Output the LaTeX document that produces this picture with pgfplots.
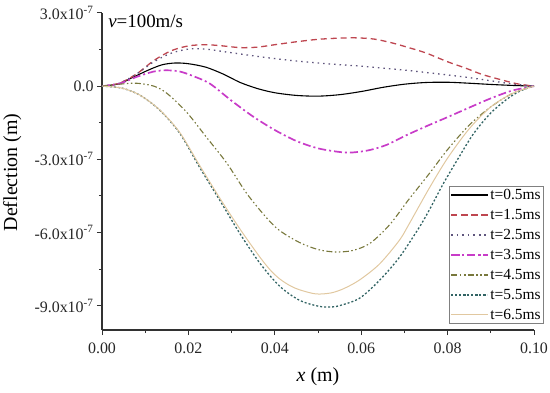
\documentclass[border=0pt]{standalone}
\usepackage{pgfplots}
\pgfplotsset{compat=1.18}
\usepackage{fontspec}
\setmainfont{Liberation Serif}
\definecolor{cred}{RGB}{190,70,80}
\definecolor{cdot}{RGB}{95,85,125}
\definecolor{cmag}{RGB}{200,60,200}
\definecolor{coli}{RGB}{120,120,60}
\definecolor{cteal}{RGB}{50,100,100}
\definecolor{ctan}{RGB}{225,200,160}
\definecolor{caxis}{RGB}{50,50,50}
\begin{document}
\begin{tikzpicture}
\useasboundingbox (-102bp,-63bp) rectangle (448bp,330bp);
\begin{axis}[
  at={(0,0)}, anchor=south west,
  scale only axis, width=432bp, height=317bp,
  xmin=0, xmax=0.1, ymin=-10, ymax=3,
  axis x line=bottom, axis y line=left,
  axis line style={caxis, line width=1.1pt, -},
  tick align=outside,
  major tick length=5bp, minor tick length=3bp,
  every tick/.style={caxis, line width=1pt},
  xtick={0,0.02,0.04,0.06,0.08,0.1},
  xticklabels={0.00,0.02,0.04,0.06,0.08,0.10},
  minor xtick={0.01,0.03,0.05,0.07,0.09},
  ytick={3,0,-3,-6,-9},
  yticklabels={3.0x10\textsuperscript{-7},0.0,-3.0x10\textsuperscript{-7},-6.0x10\textsuperscript{-7},-9.0x10\textsuperscript{-7}},
  minor ytick={1.5,-1.5,-4.5,-7.5},
  scaled x ticks=false, scaled y ticks=false,
  tick label style={font=\fontsize{16}{18}\selectfont, text=black!85},
  xticklabel style={yshift=-4bp},
  xlabel={\textit{x} (m)},
  ylabel={Deflection (m)},
  label style={font=\fontsize{20}{22}\selectfont},
  xlabel style={at={(axis description cs:0.5,-0.148)}, anchor=center},
  ylabel style={at={(axis description cs:-0.208,0.497)}, anchor=center},
  legend style={at={(1.023,0.019)}, anchor=south east, draw=black!50, line width=0.6pt,
    font=\fontsize{15.5}{17}\selectfont, inner sep=1pt, row sep=4.3bp},
  legend cell align=left,
  legend image code/.code={\draw[mark repeat=2,mark phase=2,#1] plot coordinates {(0bp,0bp) (18bp,0bp) (36bp,0bp)};},
  clip=false,
  every axis plot/.append style={smooth},
]
\addplot[black, line width=1.1pt] coordinates {
(0,0) (0.004,0.1) (0.007,0.35) (0.011,0.68) (0.014,0.88) (0.017,0.95) (0.02,0.92) (0.024,0.78) (0.028,0.5) (0.032,0.15) (0.036,-0.1) (0.04,-0.27) (0.045,-0.38) (0.05,-0.41) (0.055,-0.35) (0.06,-0.22) (0.065,-0.05) (0.07,0.08) (0.075,0.15) (0.08,0.16) (0.085,0.12) (0.09,0.07) (0.095,0.03) (0.1,0)};
\addlegendentry{t=0.5ms}
\addplot[cred, line width=1.3pt, dash pattern=on 6bp off 4bp] coordinates {
(0,0) (0.004,0.12) (0.008,0.5) (0.012,1.05) (0.016,1.45) (0.02,1.65) (0.024,1.7) (0.028,1.65) (0.032,1.58) (0.036,1.6) (0.04,1.7) (0.045,1.82) (0.05,1.92) (0.055,1.97) (0.059,1.98) (0.063,1.93) (0.067,1.78) (0.071,1.58) (0.075,1.36) (0.08,1.0) (0.084,0.75) (0.088,0.48) (0.092,0.28) (0.096,0.1) (0.1,0)};
\addlegendentry{t=1.5ms}
\addplot[cdot, line width=1.3pt, dash pattern=on 1.5bp off 4bp] coordinates {
(0,0) (0.004,0.12) (0.008,0.5) (0.012,1.0) (0.016,1.35) (0.02,1.52) (0.024,1.52) (0.028,1.42) (0.032,1.32) (0.036,1.22) (0.04,1.13) (0.045,1.03) (0.05,0.95) (0.055,0.88) (0.06,0.82) (0.065,0.74) (0.07,0.66) (0.075,0.56) (0.08,0.46) (0.085,0.35) (0.09,0.22) (0.095,0.09) (0.1,0)};
\addlegendentry{t=2.5ms}
\addplot[cmag, line width=1.7pt, dash pattern=on 8bp off 3bp on 2bp off 3bp] coordinates {
(0,0) (0.004,0.1) (0.008,0.38) (0.012,0.6) (0.015,0.65) (0.018,0.6) (0.021,0.42) (0.025,0.1) (0.03,-0.6) (0.035,-1.25) (0.04,-1.8) (0.045,-2.25) (0.05,-2.55) (0.055,-2.7) (0.058,-2.72) (0.062,-2.62) (0.066,-2.4) (0.07,-2.05) (0.075,-1.65) (0.08,-1.27) (0.085,-0.88) (0.09,-0.5) (0.095,-0.18) (0.1,0)};
\addlegendentry{t=3.5ms}
\addplot[coli, line width=1.1pt, dash pattern=on 6bp off 2.5bp on 1.5bp off 2.5bp on 1.5bp off 2.5bp] coordinates {
(0,0) (0.004,0.08) (0.008,0.12) (0.012,0.0) (0.015,-0.29) (0.0196,-1.07) (0.0242,-2.1) (0.0289,-3.16) (0.0335,-4.4) (0.038,-5.38) (0.0411,-5.92) (0.0457,-6.41) (0.05,-6.7) (0.054,-6.8) (0.058,-6.74) (0.062,-6.45) (0.0665,-5.7) (0.071,-4.65) (0.0757,-3.6) (0.08,-2.6) (0.085,-1.6) (0.09,-0.85) (0.095,-0.3) (0.1,0)};
\addlegendentry{t=4.5ms}
\addplot[cteal, line width=1.3pt, dash pattern=on 2bp off 2bp] coordinates {
(0,0) (0.0046,-0.08) (0.0088,-0.37) (0.0134,-0.99) (0.018,-1.93) (0.0226,-3.33) (0.0273,-4.69) (0.0319,-6.04) (0.0365,-7.25) (0.0411,-8.2) (0.0457,-8.78) (0.05,-9.02) (0.0527,-9.06) (0.055,-9.0) (0.0596,-8.7) (0.0642,-7.97) (0.0688,-7.03) (0.0734,-5.8) (0.0757,-5.1) (0.079,-4.0) (0.0825,-2.95) (0.086,-1.95) (0.09,-1.1) (0.094,-0.5) (0.097,-0.18) (0.1,0)};
\addlegendentry{t=5.5ms}
\addplot[ctan, line width=1pt] coordinates {
(0,0) (0.0046,-0.08) (0.0088,-0.37) (0.0134,-0.98) (0.018,-1.9) (0.0226,-3.25) (0.0273,-4.6) (0.0319,-5.85) (0.0365,-7.0) (0.039,-7.55) (0.0411,-7.9) (0.0435,-8.18) (0.0457,-8.35) (0.0495,-8.52) (0.053,-8.48) (0.056,-8.3) (0.0596,-7.95) (0.0642,-7.3) (0.0688,-6.33) (0.0711,-5.65) (0.0757,-4.2) (0.08,-2.95) (0.085,-1.75) (0.09,-0.85) (0.095,-0.3) (0.1,0)};
\addlegendentry{t=6.5ms}
\node[anchor=base west, inner sep=0pt, font=\fontsize{19}{21}\selectfont] at (rel axis cs:0.014,0.953) {\textit{v}=100m/s};
\end{axis}
\end{tikzpicture}
\end{document}
